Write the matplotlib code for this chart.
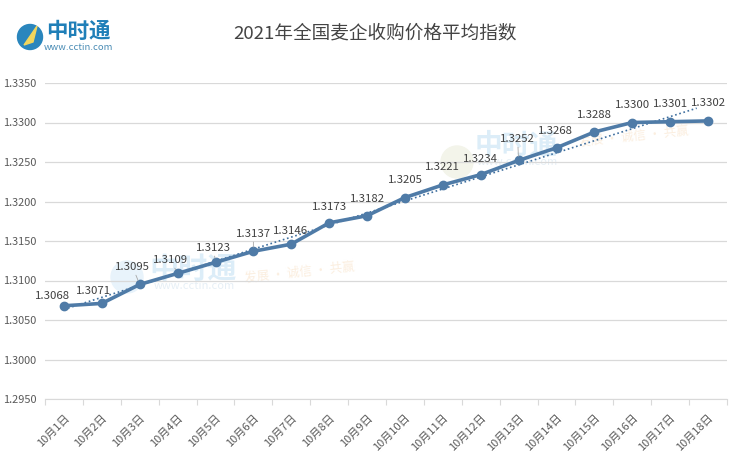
#!/usr/bin/env python3
"""2021 national wheat purchase price index, daily values for October."""
import numpy as np
import matplotlib
matplotlib.use("Agg")
import matplotlib.pyplot as plt
from matplotlib.patches import Circle, Polygon

plt.rcParams["font.family"] = ["Noto Sans CJK SC", "DejaVu Sans"]

W, H = 735, 471

days = [f"10月{d}日" for d in range(1, 19)]
index_values = [1.3068, 1.3071, 1.3095, 1.3109, 1.3123, 1.3137, 1.3146, 1.3173, 1.3182,
                1.3205, 1.3221, 1.3234, 1.3252, 1.3268, 1.3288, 1.3300, 1.3301, 1.3302]
y_ticks = [1.2950, 1.3000, 1.3050, 1.3100, 1.3150, 1.3200, 1.3250, 1.3300, 1.3350]

# label offsets from each point, in pixels (right, up)
label_dx = [-11, -8, -7, -7, -2, 0, -1, 0, 0, 0, 0, 0, -1, -1, 0, 0, 0, 0]
label_dy = [11, 13, 18, 14, 15, 18, 14, 17, 18, 19, 19, 17, 22, 18, 18, 18, 19, 19]

LINE = "#4f7ba7"
TEXT = "#595959"
GRID = "#d9d9d9"

fig = plt.figure(figsize=(W / 100, H / 100), dpi=100)

# backdrop layer in image pixels: logo and faint watermarks sit behind the chart
bg = fig.add_axes([0, 0, 1, 1], zorder=0)
bg.set_xlim(0, W)
bg.set_ylim(H, 0)
bg.axis("off")


def px_text(x, y, s, **kw):
    bg.text(x, y, s, ha="center", va="center", **kw)


bg.add_patch(Circle((30, 37), 12.5, color="#2a86bd"))
bg.add_patch(Polygon([[37, 26], [24, 45], [33, 42]], color="#f2d65c"))
px_text(78, 31, "中时通", fontsize=15.5, color="#1f7fb8", fontweight="bold")
px_text(78, 47, "www.cctin.com", fontsize=6.8, color="#4a8cb5")

wm_color = "#dcedf8"
bg.add_patch(Circle((127, 277), 16, color="#e8f3fb"))
bg.add_patch(Circle((457, 162), 16, color="#f3f4ea"))
px_text(193, 269, "中时通", fontsize=21, color=wm_color, fontweight="bold")
px_text(194, 286, "www.cctin.com", fontsize=8, color="#e6eff6")
px_text(516, 146, "中时通", fontsize=20, color=wm_color, fontweight="bold")
px_text(517, 162, "www.cctin.com", fontsize=8, color="#e6eff6")
px_text(300, 272, "发展 · 诚信 · 共赢", fontsize=9, color="#fbeedf", rotation=6)
px_text(634, 136, "发展 · 诚信 · 共赢", fontsize=9, color="#fbeedf", rotation=6)

ax = fig.add_axes([45 / W, 1 - 399 / H, (727 - 45) / W, 316 / H], zorder=1)
ax.patch.set_alpha(0)

x = np.arange(len(days))
ax.plot(x, index_values, color=LINE, lw=2.6, marker="o", ms=6, zorder=3)

# linear trendline, as the spreadsheet draws it
slope, intercept = np.polyfit(x, index_values, 1)
trend_x = np.array([0, 16.7])
ax.plot(trend_x, slope * trend_x + intercept, color="#3f6f9f", lw=1.2, ls=(0, (1, 1.6)), zorder=2)

for i, val in enumerate(index_values):
    arrow = dict(arrowstyle="-", color="#a6a6a6", lw=0.6, shrinkA=0, shrinkB=3) if i in (2, 3, 4, 5, 12) else None
    ax.annotate(f"{val:.4f}", xy=(i, val), xytext=(label_dx[i] * 0.72, label_dy[i] * 0.72 - 0.7),
                textcoords="offset points", ha="center", va="center",
                fontsize=8.2, color="#404040", arrowprops=arrow, zorder=4)

ax.set_xlim(-0.5, len(days) - 0.5)
ax.set_ylim(1.2950, 1.3350)
ax.set_yticks(y_ticks)
ax.set_yticklabels([f"{t:.4f}" for t in y_ticks], fontsize=7.9, color=TEXT)
ax.set_xticks(x)
ax.set_xticklabels(days, fontsize=8, color=TEXT, rotation=45, ha="right",
                   rotation_mode="anchor")
ax.set_xticks(np.arange(-0.5, len(days)), minor=True)
ax.tick_params(axis="y", length=0, pad=6)
ax.tick_params(axis="x", which="major", length=0, pad=10)
ax.tick_params(axis="x", which="minor", length=4, color=GRID, width=0.8)
ax.grid(axis="y", color=GRID, lw=0.9)
ax.set_axisbelow(True)
for side in ("top", "right", "left"):
    ax.spines[side].set_visible(False)
ax.spines["bottom"].set_color(GRID)

px_text(375, 33, "2021年全国麦企收购价格平均指数", fontsize=13.4, color="#444444")

fig.savefig("out.png", dpi=100)
plt.close(fig)
